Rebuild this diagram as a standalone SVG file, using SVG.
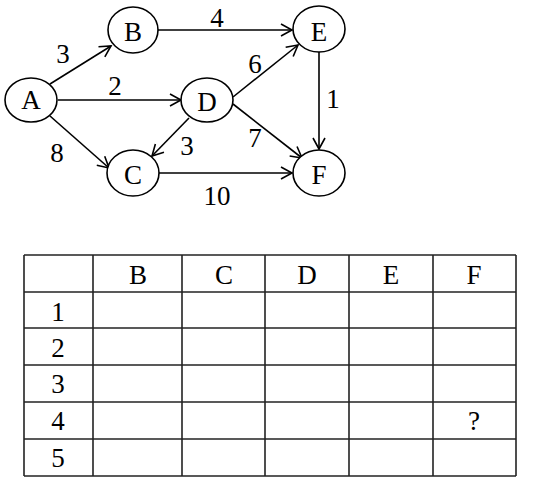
<svg xmlns="http://www.w3.org/2000/svg" width="559" height="494" viewBox="0 0 559 494">
<style>
.n ellipse{fill:#fff;stroke:#000;stroke-width:1.6}
text{font-family:"Liberation Serif","DejaVu Serif",serif;font-size:27px;fill:#000;text-anchor:middle}
.e line{stroke:#000;stroke-width:1.6}
.t line{stroke:#222;stroke-width:1.6}
</style>
<defs>
<marker id="ar" markerUnits="userSpaceOnUse" markerWidth="14" markerHeight="14" refX="12" refY="7" orient="auto" viewBox="0 0 14 14">
<path d="M1,1 L12,7 L1,13" fill="none" stroke="#000" stroke-width="1.6"/>
</marker>
</defs>
<rect width="559" height="494" fill="#fff"/>
<g id="edges" class="e">
<line x1="158" y1="30" x2="292" y2="30" marker-end="url(#ar)"/>
<line x1="50" y1="84" x2="111" y2="46" marker-end="url(#ar)"/>
<line x1="58" y1="100" x2="181" y2="100" marker-end="url(#ar)"/>
<line x1="50" y1="116" x2="109" y2="168" marker-end="url(#ar)"/>
<line x1="189" y1="118" x2="152" y2="156" marker-end="url(#ar)"/>
<line x1="233" y1="97" x2="298" y2="45" marker-end="url(#ar)"/>
<line x1="233" y1="104" x2="302" y2="158" marker-end="url(#ar)"/>
<line x1="159" y1="173" x2="292" y2="173" marker-end="url(#ar)"/>
<line x1="319" y1="52" x2="319" y2="149" marker-end="url(#ar)"/>
<text x="63" y="63">3</text>
<text x="217" y="27">4</text>
<text x="115" y="95">2</text>
<text x="255" y="73">6</text>
<text x="333" y="108">1</text>
<text x="57" y="162">8</text>
<text x="187" y="155">3</text>
<text x="255" y="147">7</text>
<text x="217" y="205">10</text>
</g>
<g id="A" class="n"><ellipse cx="31" cy="100" rx="26" ry="22"/><text x="31" y="109">A</text></g>
<g id="B" class="n"><ellipse cx="133" cy="30" rx="25" ry="23"/><text x="133" y="41">B</text></g>
<g id="D" class="n"><ellipse cx="207" cy="100" rx="26" ry="22"/><text x="207" y="111">D</text></g>
<g id="C" class="n"><ellipse cx="133" cy="173" rx="26" ry="23"/><text x="133" y="184">C</text></g>
<g id="E" class="n"><ellipse cx="319" cy="29" rx="26" ry="23"/><text x="319" y="41">E</text></g>
<g id="F" class="n"><ellipse cx="319" cy="173" rx="26" ry="23"/><text x="319" y="184">F</text></g>
<g id="table" class="t">
<line x1="24" y1="255" x2="516" y2="255"/>
<line x1="24" y1="292" x2="516" y2="292"/>
<line x1="24" y1="328" x2="516" y2="328"/>
<line x1="24" y1="365" x2="516" y2="365"/>
<line x1="24" y1="402" x2="516" y2="402"/>
<line x1="24" y1="439" x2="516" y2="439"/>
<line x1="24" y1="476" x2="516" y2="476"/>
<line x1="24" y1="255" x2="24" y2="476"/>
<line x1="93" y1="255" x2="93" y2="476"/>
<line x1="182" y1="255" x2="182" y2="476"/>
<line x1="265" y1="255" x2="265" y2="476"/>
<line x1="349" y1="255" x2="349" y2="476"/>
<line x1="433" y1="255" x2="433" y2="476"/>
<line x1="516" y1="255" x2="516" y2="476"/>
<text x="138" y="284">B</text>
<text x="224" y="284">C</text>
<text x="307" y="284">D</text>
<text x="391" y="284">E</text>
<text x="474" y="284">F</text>
<text x="58" y="321">1</text>
<text x="58" y="357">2</text>
<text x="58" y="393">3</text>
<text x="58" y="430">4</text>
<text x="58" y="467">5</text>
<text x="474" y="430">?</text>
</g>
</svg>
